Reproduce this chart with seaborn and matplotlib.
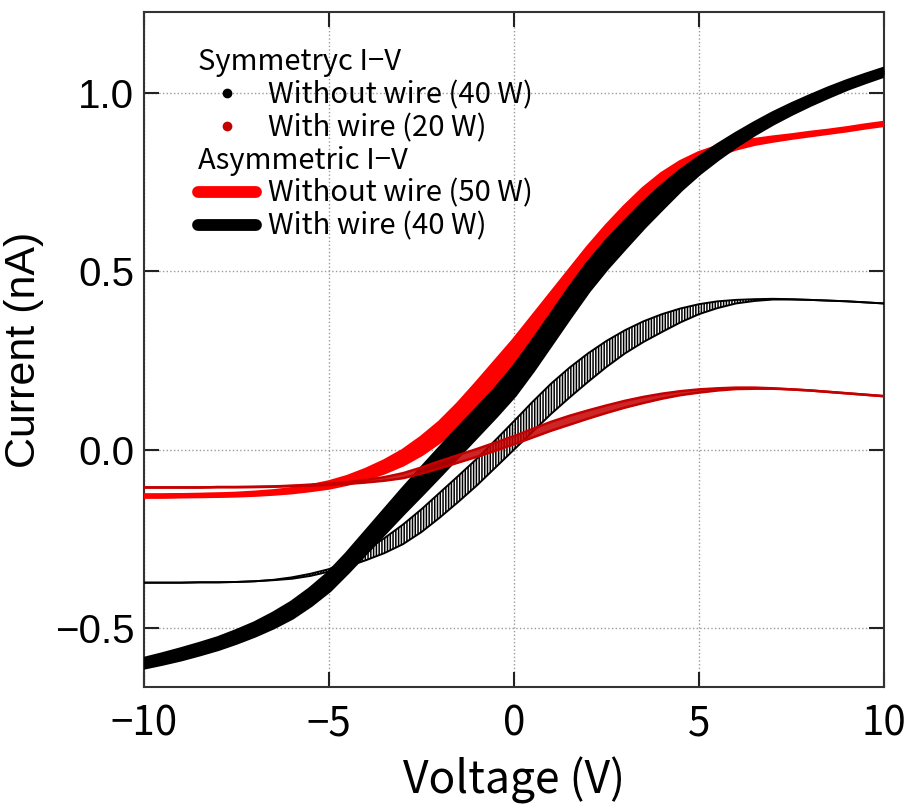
import numpy as np
import pandas as pd
import seaborn as sns
import matplotlib
matplotlib.use("Agg")
import matplotlib.pyplot as plt
from matplotlib import font_manager
from matplotlib.lines import Line2D

# ---- measured I-V sweeps (voltage in V, current in nA) ----
voltage = [-10.0, -9.5, -9.0, -8.5, -8.0, -7.5, -7.0, -6.5, -6.0, -5.5, -5.0,
           -4.5, -4.0, -3.5, -3.0, -2.5, -2.0, -1.5, -1.0, -0.5, 0.0,
           0.5, 1.0, 1.5, 2.0, 2.5, 3.0, 3.5, 4.0, 4.5, 5.0,
           5.5, 6.0, 6.5, 7.0, 7.5, 8.0, 8.5, 9.0, 9.5, 10.0]

# symmetric I-V, without wire (40 W): the two sweep directions
sym_nowire_up = [-0.373, -0.373, -0.373, -0.372, -0.372, -0.371, -0.369, -0.365, -0.358, -0.348, -0.335,
                 -0.311, -0.282, -0.248, -0.210, -0.167, -0.120, -0.073, -0.025, 0.027, 0.080,
                 0.134, 0.185, 0.230, 0.270, 0.305, 0.335, 0.360, 0.380, 0.396, 0.408,
                 0.416, 0.420, 0.422, 0.423, 0.422, 0.420, 0.418, 0.416, 0.413, 0.410]
sym_nowire_dn = [-0.373, -0.373, -0.373, -0.372, -0.372, -0.371, -0.369, -0.366, -0.362, -0.354, -0.342,
                 -0.328, -0.310, -0.290, -0.265, -0.231, -0.190, -0.146, -0.100, -0.050, 0.000,
                 0.050, 0.100, 0.146, 0.190, 0.232, 0.270, 0.302, 0.330, 0.357, 0.380,
                 0.397, 0.410, 0.417, 0.421, 0.421, 0.420, 0.418, 0.416, 0.413, 0.410]

# symmetric I-V, with wire (20 W)
sym_wire_up = [-0.106, -0.106, -0.106, -0.106, -0.105, -0.105, -0.104, -0.103, -0.101, -0.098, -0.095,
               -0.091, -0.085, -0.077, -0.066, -0.050, -0.032, -0.015, 0.002, 0.020, 0.038,
               0.058, 0.078, 0.095, 0.110, 0.124, 0.137, 0.148, 0.157, 0.164, 0.169,
               0.172, 0.174, 0.174, 0.172, 0.169, 0.166, 0.162, 0.158, 0.154, 0.150]
sym_wire_dn = [-0.106, -0.106, -0.106, -0.106, -0.105, -0.105, -0.105, -0.104, -0.102, -0.101, -0.099,
               -0.096, -0.092, -0.087, -0.080, -0.067, -0.052, -0.036, -0.020, -0.003, 0.015,
               0.034, 0.053, 0.070, 0.087, 0.103, 0.118, 0.131, 0.143, 0.153, 0.160,
               0.166, 0.170, 0.171, 0.171, 0.169, 0.166, 0.162, 0.158, 0.154, 0.150]

# asymmetric I-V, without wire (50 W)
asym_nowire_up = [-0.130, -0.130, -0.129, -0.128, -0.127, -0.125, -0.122, -0.118, -0.112, -0.104, -0.093,
                  -0.078, -0.058, -0.034, -0.005, 0.032, 0.075, 0.127, 0.185, 0.245, 0.305,
                  0.370, 0.435, 0.500, 0.565, 0.625, 0.680, 0.730, 0.772, 0.805, 0.830,
                  0.848, 0.860, 0.867, 0.874, 0.880, 0.887, 0.893, 0.900, 0.908, 0.915]
asym_nowire_dn = [-0.130, -0.130, -0.129, -0.129, -0.128, -0.127, -0.125, -0.122, -0.118, -0.112, -0.105,
                  -0.094, -0.080, -0.062, -0.040, -0.011, 0.025, 0.070, 0.120, 0.176, 0.235,
                  0.300, 0.365, 0.430, 0.495, 0.560, 0.620, 0.678, 0.728, 0.770, 0.803,
                  0.828, 0.846, 0.859, 0.868, 0.876, 0.883, 0.890, 0.897, 0.905, 0.912]

# asymmetric I-V, with wire (40 W)
asym_wire_up = [-0.590, -0.577, -0.563, -0.548, -0.532, -0.512, -0.490, -0.463, -0.432, -0.394, -0.350,
                -0.295, -0.235, -0.175, -0.115, -0.057, 0.000, 0.056, 0.110, 0.165, 0.227,
                0.298, 0.372, 0.447, 0.518, 0.580, 0.635, 0.688, 0.735, 0.778, 0.815,
                0.850, 0.882, 0.912, 0.940, 0.965, 0.988, 1.010, 1.030, 1.048, 1.065]
asym_wire_dn = [-0.608, -0.597, -0.585, -0.571, -0.556, -0.538, -0.518, -0.495, -0.468, -0.433, -0.392,
                -0.340, -0.285, -0.230, -0.175, -0.122, -0.068, -0.013, 0.042, 0.097, 0.155,
                0.225, 0.300, 0.375, 0.448, 0.512, 0.570, 0.627, 0.680, 0.732, 0.778,
                0.818, 0.855, 0.888, 0.918, 0.945, 0.970, 0.993, 1.015, 1.034, 1.052]

x_ticks = [-10, -5, 0, 5, 10]
x_tick_labels = ["\u221210", "\u22125", "0", "5", "10"]
y_ticks = [-0.5, 0.0, 0.5, 1.0]
y_tick_labels = ["\u22120.5", "0.0", "0.5", "1.0"]

RED = "#ff0000"
DARK_RED = "#c40000"
BLACK = "#000000"

sns.set_style("ticks")
plt.rcParams.update({
    "hatch.linewidth": 1.1,
    "text.color": "black",
    "axes.labelcolor": "black",
    "xtick.color": "black",
    "ytick.color": "black",
})

# Arial-like face for the current axis, Gothic-like face for voltage and legend
installed = {f.name for f in font_manager.fontManager.ttflist}
sans_font = [n for n in ("Liberation Sans", "Arimo", "Roboto", "Open Sans") if n in installed] + ["DejaVu Sans"]
jp_font = ["Noto Sans CJK JP", "DejaVu Sans"]
plt.rcParams["font.family"] = sans_font

fig = plt.figure(figsize=(9.09, 8.08), dpi=100)
ax = fig.add_axes([0.1584, 0.150, 0.8141, 0.835])

df = pd.DataFrame({
    "V": voltage,
    "sym_nowire_up": sym_nowire_up, "sym_nowire_dn": sym_nowire_dn,
    "sym_wire_up": sym_wire_up, "sym_wire_dn": sym_wire_dn,
    "asym_nowire_up": asym_nowire_up, "asym_nowire_dn": asym_nowire_dn,
    "asym_wire_up": asym_wire_up, "asym_wire_dn": asym_wire_dn,
})


def sweep(prefix, color, lw, fill_kw, z):
    """Draw both sweep directions of one loop and shade the hysteresis between them."""
    ax.fill_between(df["V"], df[prefix + "_dn"], df[prefix + "_up"], zorder=z, **fill_kw)
    for branch in ("_up", "_dn"):
        sns.lineplot(data=df, x="V", y=prefix + branch, color=color, linewidth=lw,
                     sort=False, ax=ax, zorder=z, solid_capstyle="round",
                     solid_joinstyle="round")


sweep("asym_nowire", RED, 3.8, dict(color=RED, linewidth=0), 3)
sweep("asym_wire", BLACK, 4.6, dict(color=BLACK, linewidth=0), 4)
sweep("sym_nowire", BLACK, 1.4, dict(facecolor="none", edgecolor=BLACK, hatch="||||||", linewidth=0), 5)
sweep("sym_wire", DARK_RED, 1.8, dict(color=DARK_RED, alpha=0.85, linewidth=0), 6)

ax.set_xlim(-10, 10)
ax.set_ylim(-0.665, 1.227)
ax.set_xticks(x_ticks)
ax.set_yticks(y_ticks)
ax.set_xticklabels(x_tick_labels, fontfamily=jp_font, fontsize=29)
ax.set_yticklabels(y_tick_labels, fontfamily=sans_font, fontsize=29)
ax.tick_params(axis="both", which="major", direction="in", length=11, width=1.5,
               top=True, right=True, color="#222222")
ax.tick_params(axis="x", pad=12)
ax.tick_params(axis="y", pad=7)
ax.grid(True, linestyle=":", color="#9a9a9a", linewidth=1.0)
for side in ax.spines.values():
    side.set_linewidth(1.5)
    side.set_color("#333333")
    side.set_visible(True)

ax.set_xlabel("Voltage (V)", fontfamily=jp_font, fontsize=32, labelpad=9)
ax.set_ylabel("Current (nA)", fontfamily=sans_font, fontsize=31, labelpad=8)

# legend with group headers
blank = Line2D([], [], color="none")
handles = [
    blank,
    Line2D([], [], color=BLACK, marker="o", markersize=6, linestyle="none"),
    Line2D([], [], color=DARK_RED, marker="o", markersize=6, linestyle="none"),
    blank,
    Line2D([], [], color=RED, linewidth=8.5, solid_capstyle="round"),
    Line2D([], [], color=BLACK, linewidth=8.5, solid_capstyle="round"),
]
labels = [
    "Symmetryc I\u2212V",
    "Without wire (40 W)",
    "With wire (20 W)",
    "Asymmetric I\u2212V",
    "Without wire (50 W)",
    "With wire (40 W)",
]
leg = ax.legend(handles, labels, loc="upper left", bbox_to_anchor=(0.073, 0.948),
                frameon=False, handlelength=2.0, handletextpad=0.4,
                labelspacing=0.1, borderpad=0, borderaxespad=0,
                prop={"family": jp_font, "size": 21})
column = leg._legend_handle_box.get_children()[0]
for i, row in enumerate(column.get_children()):
    if i in (0, 3):
        row.get_children()[0].width = 0
        row.sep = 0

fig.savefig("out.png", dpi=100)
